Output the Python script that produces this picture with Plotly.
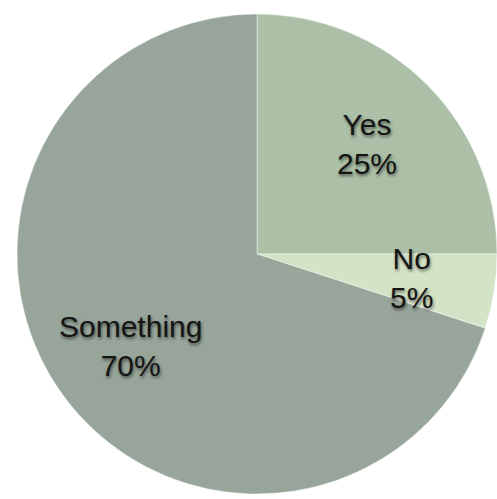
import math
import plotly.graph_objects as go

labels = ["Yes", "No", "Something"]
values = [25, 5, 70]
colors = ["#abc0a7", "#d3e3c6", "#97a59a"]

W, H = 497, 499
CX, CY, R = 257, 254, 240  # pie centre / radius in pixels

fig = go.Figure(go.Pie(
    labels=labels,
    values=values,
    sort=False,
    direction="clockwise",
    rotation=0,
    textinfo="none",
    hoverinfo="label+percent",
    marker=dict(colors=colors, line=dict(color="rgba(255,255,255,0.45)", width=1)),
    domain=dict(x=[(CX - R) / W, (CX + R) / W], y=[1 - (CY + R) / H, 1 - (CY - R) / H]),
    showlegend=False,
))

total = sum(values)
cum = 0
annotations = []
for lab, v in zip(labels, values):
    mid = (cum + v / 2) / total * 2 * math.pi
    cum += v
    rr = 0.64 * 244
    px = CX + rr * math.sin(mid)
    py = CY - rr * math.cos(mid)
    annotations.append(dict(
        x=px / W, y=1 - py / H, xref="paper", yref="paper",
        xanchor="center", yanchor="middle",
        text=f"{lab}<br>{round(v / total * 100)}%",
        showarrow=False,
        font=dict(family="Liberation Sans, Arial, sans-serif", size=30, color="#151515",
                  shadow="1px 2px 3px rgba(0,0,0,0.5)"),
        align="center",
    ))

fig.update_layout(
    width=W, height=H,
    margin=dict(l=0, r=0, t=0, b=0),
    paper_bgcolor="white",
    plot_bgcolor="white",
    annotations=annotations,
)

fig.write_html("out.html")
